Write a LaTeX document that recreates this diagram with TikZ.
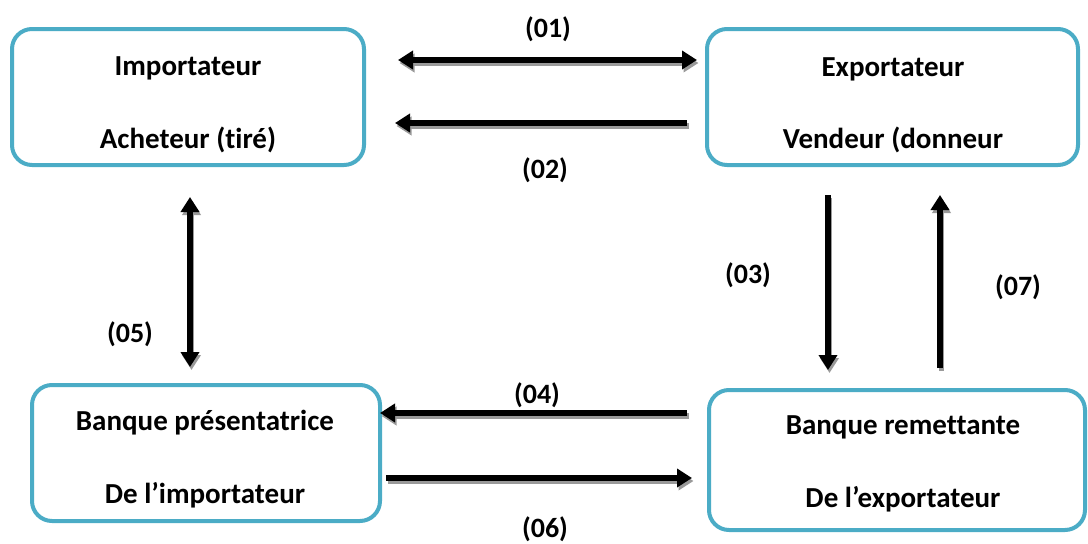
\documentclass[tikz,border=0pt]{standalone}
\usepackage{fontspec}
\setmainfont{Carlito}[Ligatures=NoCommon]
\usetikzlibrary{arrows.meta}
\definecolor{boxblue}{HTML}{4BACC6}
\definecolor{shadowgray}{HTML}{9A9A9A}
\tikzset{
  party/.style={draw=boxblue, line width=4pt, rounded corners=20pt, fill=white, inner sep=0pt},
  caption/.style={anchor=base, inner sep=0pt, font=\fontsize{29}{34}\selectfont\bfseries},
  steplabel/.style={anchor=base, inner sep=0pt, font=\fontsize{28}{33}\selectfont\bfseries},
  flow/.style={line width=5.5pt, -{Triangle[length=15pt,width=18pt]}},
  flowboth/.style={line width=5.5pt, {Triangle[length=15pt,width=18pt]}-{Triangle[length=15pt,width=18pt]}},
}
% draws a connector twice: a grey copy offset down-right, then the black one
\newcommand{\shadowed}[3]{%
  \draw[#1, shadowgray] ([shift={(1.5pt,-3pt)}]#2) -- ([shift={(1.5pt,-3pt)}]#3);
  \draw[#1, black] (#2) -- (#3);
}
\begin{document}
\begin{tikzpicture}[x=1pt, y=-1pt]
  \useasboundingbox (0,0) rectangle (1088,544);

  % the four parties
  \node[party, minimum width=352pt, minimum height=136pt] (imp) at (188,97) {};
  \node[party, minimum width=371pt, minimum height=136pt] (exp) at (892.5,97) {};
  \node[party, minimum width=348pt, minimum height=136pt] (bimp) at (206,453) {};
  \node[party, minimum width=376pt, minimum height=140pt] (bexp) at (897,460) {};

  \node[caption] (imp1) at (188,75) {Importateur};
  \node[caption] (imp2) at (188,148) {Acheteur (tiré)};
  \node[caption] (exp1) at (893,76) {Exportateur};
  \node[caption] (exp2) at (893,148) {Vendeur (donneur};
  \node[caption] (bimp1) at (205,430) {Banque présentatrice};
  \node[caption] (bimp2) at (205,503) {De l’importateur};
  \node[caption] (bexp1) at (903,434) {Banque remettante};
  \node[caption] (bexp2) at (903,507) {De l’exportateur};

  % end points of the flows
  \coordinate (a1s) at (398,60);  \coordinate (a1e) at (697,60);
  \coordinate (a2s) at (687,123); \coordinate (a2e) at (395,123);
  \coordinate (a3s) at (828,195); \coordinate (a3e) at (828,370);
  \coordinate (a7s) at (940,368); \coordinate (a7e) at (940,195);
  \coordinate (a5s) at (190,197); \coordinate (a5e) at (190,367);
  \coordinate (a4s) at (687,413); \coordinate (a4e) at (380,413);
  \coordinate (a6s) at (386,478); \coordinate (a6e) at (692,478);

  \shadowed{flowboth}{a1s}{a1e}
  \shadowed{flow}{a2s}{a2e}
  \shadowed{flow}{a3s}{a3e}
  \shadowed{flow}{a7s}{a7e}
  \shadowed{flowboth}{a5s}{a5e}
  \shadowed{flow}{a4s}{a4e}
  \shadowed{flow}{a6s}{a6e}

  % step numbers
  \node[steplabel] (l1) at (548,37) {(01)};
  \node[steplabel] (l2) at (545,178) {(02)};
  \node[steplabel] (l3) at (748,283) {(03)};
  \node[steplabel] (l7) at (1018,295) {(07)};
  \node[steplabel] (l5) at (130,342) {(05)};
  \node[steplabel] (l4) at (537,403) {(04)};
  \node[steplabel] (l6) at (545,537) {(06)};
\end{tikzpicture}
\end{document}
